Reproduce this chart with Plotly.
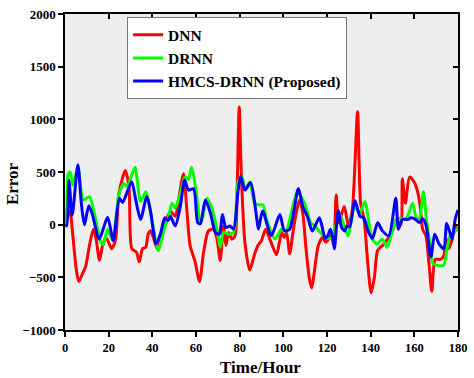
import plotly.graph_objects as go

# ---- data (time in hours, error) ----
dnn_t = [0, 2.2, 3.6, 5.1, 6.3, 8.1, 9.4, 11.2, 13, 14.2, 15.8, 17.2, 18.8, 21.4, 23.2, 24.7, 27.6, 29.3,
         30.6, 32.7, 34, 35.5, 37, 38.1, 39.3, 40.7, 42.2, 43.7, 46, 48.3, 50.5, 52, 54.3, 55.8, 57.3, 59.6,
         61.6, 63.5, 65.7, 68, 69.6, 71.1, 72.6, 73.7, 74.9, 76.4, 77.9, 78.8, 79.8, 80.8, 82.4, 84.6, 86.9,
         88.4, 90, 91.9, 93.8, 96.9, 99.2, 100.4, 101.5, 102.9, 104.4, 105.9, 107.4, 108.9, 110.4, 111.9,
         113, 114.2, 116, 118, 119.5, 121.9, 123.1, 124.2, 125.4, 127.9, 129.8, 131.6, 134, 135.4, 137,
         138.5, 140.2, 141.7, 143.2, 145.4, 147.7, 150, 151.8, 153.8, 154.5, 155.9, 157.8, 159.8, 161.4,
         162.7, 163.8, 165.3, 166.7, 168, 169.6, 172, 173.4, 174.7, 175.6, 177.2, 178.6, 180]
dnn_v = [0, 127, -105, -415, -540, -461, -400, -198, -43, -130, -338, -198, -121, -229, -136, 297, 514, 359,
         -229, -260, -353, -229, -214, -90, -59, -136, -229, -136, 18, 127, 80, 235, 483, 142, -198, -353,
         -540, -260, -59, -43, -136, -340, -12, -198, -74, -136, -105, 297, 1117, 452, -167, -430, -275,
         -198, -150, -43, -136, -285, -74, -121, -74, -275, -74, 111, 235, 111, -229, -508,
         -601, -446, -198, -121, -167, -105, -198, 282, 20, 173, -12, 142, 1071, 204, 50,
         -322, -647, -500, -245, -198, -140, -60, 50, 0, 437, 204, 452, 410, 320,
         173, -43, -105, -370, -632, -330, -330, -300, -136, -229, -150, -12, -60]

drnn_t = [0, 0.8, 1.5, 2.4, 3.6, 5.9, 8.4, 11.2, 13.4, 16.4, 17.5, 19.5, 21.8, 24.7, 27, 28.5, 30.5, 32.1,
          34.6, 37, 38.5, 40, 42.7, 45.4, 47.5, 49, 50.5, 52.8, 55, 56.5, 58, 60.4, 61.6, 62.4, 65, 67.3,
          69.6, 71.1, 72.6, 74.9, 77.2, 79.3, 81.1, 82.6, 84.6, 86.9, 88.7, 90.7, 92.3, 96.2, 99.2, 101.3,
          103.5, 106.4, 108.5, 110, 112.6, 114.8, 117, 119.5, 121.5, 123, 124.5, 126, 127.4, 129.6, 132.6,
          134.9, 137.4, 139.2, 140.7, 143, 145.3, 147.5, 149.8, 151.8, 153.5, 156, 157.5, 159.2, 161,
          162.3, 164.2, 165.5, 167, 168.5, 170.3, 173.4, 175, 176.5, 178, 180]
drnn_v = [0, 150, 480, 500, 375, 540, 235, 266, 111, -167, -190, -43, -150, 290, 390, 360, 470, 545,
          220, 313, 200, 18, -245, -43, 80, 204, 157, 297, 452, 430, 545, 266, 50, 18, 250, 157,
          -43, -214, -74, -90, -74, 405, 452, 328, 405, 204, 188, 188, 50, -136, -43, -59,
          100, 313, 250, 189, 18, -20, -74, -121, -130, -100, 30, 90, 18, -105, 173,
          111, 220, 18, -136, -183, -136, -214, -74, 50, 60, 50, 111, 204, 60,
          60, 313, 60, -167, -368, -384, -384, -229, -100, -80, -30]

hmcs_t = [0, 0.8, 1.8, 3.3, 5.9, 7.5, 8.9, 10.9, 12.5, 15.7, 19.5, 22.1, 24.9, 26.4, 30.5, 32.4, 34.6,
          37.5, 39.3, 41.7, 43.7, 45.7, 47.2, 48.3, 50.5, 52.8, 54.8, 56.6, 58.9, 60.8, 62, 64.3, 66.6,
          68.9, 70.7, 72.1, 73.7, 75.6, 77.2, 79.3, 80.5, 82.4, 85, 87.5, 88.6, 90.5, 94.5, 98.4, 100.5,
          102.9, 106.9, 108.9, 111, 113.3, 116.5, 119.2, 120.4, 121.6, 122.9, 123.4, 125.2, 126.7, 128.2,
          129.2, 130.4, 132.8, 135.1, 136.8, 138.9, 140.8, 143.2, 145.4, 148.3, 151.5, 152.7, 154.5, 157,
          158.5, 160.5, 162.3, 163.8, 165.3, 167.6, 169.3, 171.3, 173.5, 174.8, 176.3, 177.3, 178.7, 180]
hmcs_v = [0, -10, 420, 90, 570, 200, 0, 180, 100, -136, 70, -150, 250, 210, 408, 235, 50,
          268, 111, -183, -90, 65, 40, 80, -12, 173, 421, 328, 340, 18, 10, 235, 111,
          -74, -90, 96, -28, -12, -43, 328, 460, 328, 400, 111, -43, 130, -105, 96, -59,
          -43, 344, 173, 80, -60, 65, -130, -105, -43, -150, -229, 135, -28, -59,
          -12, -20, 228, 80, 65, -65, -130, 18, -59, -105, 250, -43, 50, 50,
          65, 50, 20, 55, 0, -307, -90, -183, -229, 10, -74, -136, 50, 140]

series_names = ["DNN", "DRNN", "HMCS-DRNN (Proposed)"]
series_colors = ["#FF0000", "#00FF00", "#0000FF"]

x_ticks = [0, 20, 40, 60, 80, 100, 120, 140, 160, 180]
y_ticks = [-1000, -500, 0, 500, 1000, 1500, 2000]

FONT = "Liberation Serif, Times New Roman, serif"

fig = go.Figure()
for t, v, name, col in zip([dnn_t, drnn_t, hmcs_t], [dnn_v, drnn_v, hmcs_v], series_names, series_colors):
    fig.add_trace(go.Scatter(x=t, y=v, mode="lines", name=name,
                             line=dict(color=col, width=3, shape="spline", smoothing=0.7)))

# empty helper trace so the mirrored (inside-tick) axes get drawn
fig.add_trace(go.Scatter(x=[], y=[], xaxis="x2", yaxis="y2", showlegend=False, hoverinfo="skip"))

axis_common = dict(showline=True, linecolor="black", linewidth=1.5, showgrid=False, zeroline=False,
                   ticklen=5, tickwidth=1.5, tickcolor="black")

fig.update_layout(
    width=474, height=378,
    margin=dict(l=65, r=11, t=7, b=48),
    paper_bgcolor="white", plot_bgcolor="#EEEEEE",
    font=dict(family=FONT, color="black"),
    xaxis=dict(range=[0, 180], tickvals=x_ticks, ticks="outside", ticklabeloverflow="allow",
               tickfont=dict(family=FONT, size=12.5, weight="bold"), **axis_common),
    yaxis=dict(range=[-1000, 2000], tickvals=y_ticks, ticks="outside", ticklabeloverflow="allow",
               tickfont=dict(family=FONT, size=13, weight="bold"), **axis_common),
    xaxis2=dict(range=[0, 180], tickvals=x_ticks, ticks="inside", overlaying="x", side="top",
                showticklabels=False, **axis_common),
    yaxis2=dict(range=[-1000, 2000], tickvals=y_ticks, ticks="inside", overlaying="y", side="right",
                showticklabels=False, **axis_common),
    legend=dict(x=0.158, y=0.99, xanchor="left", yanchor="top",
                bgcolor="white", bordercolor="#777777", borderwidth=1,
                font=dict(family=FONT, size=15.5, weight="bold", color="black"),
                tracegroupgap=0),
    annotations=[
        dict(text="<b>Error</b>", x=-0.133, y=0.464, xref="paper", yref="paper",
             textangle=-90, showarrow=False, xanchor="center", yanchor="middle",
             font=dict(family=FONT, size=17)),
        dict(text="<b>Time/Hour</b>", x=0.497, y=-0.118, xref="paper", yref="paper",
             showarrow=False, xanchor="center", yanchor="middle",
             font=dict(family=FONT, size=17)),
    ],
    showlegend=True,
)

fig.write_html("out.html", config={"displayModeBar": False},
               post_script="document.body.style.margin='0';document.body.style.padding='0';")
